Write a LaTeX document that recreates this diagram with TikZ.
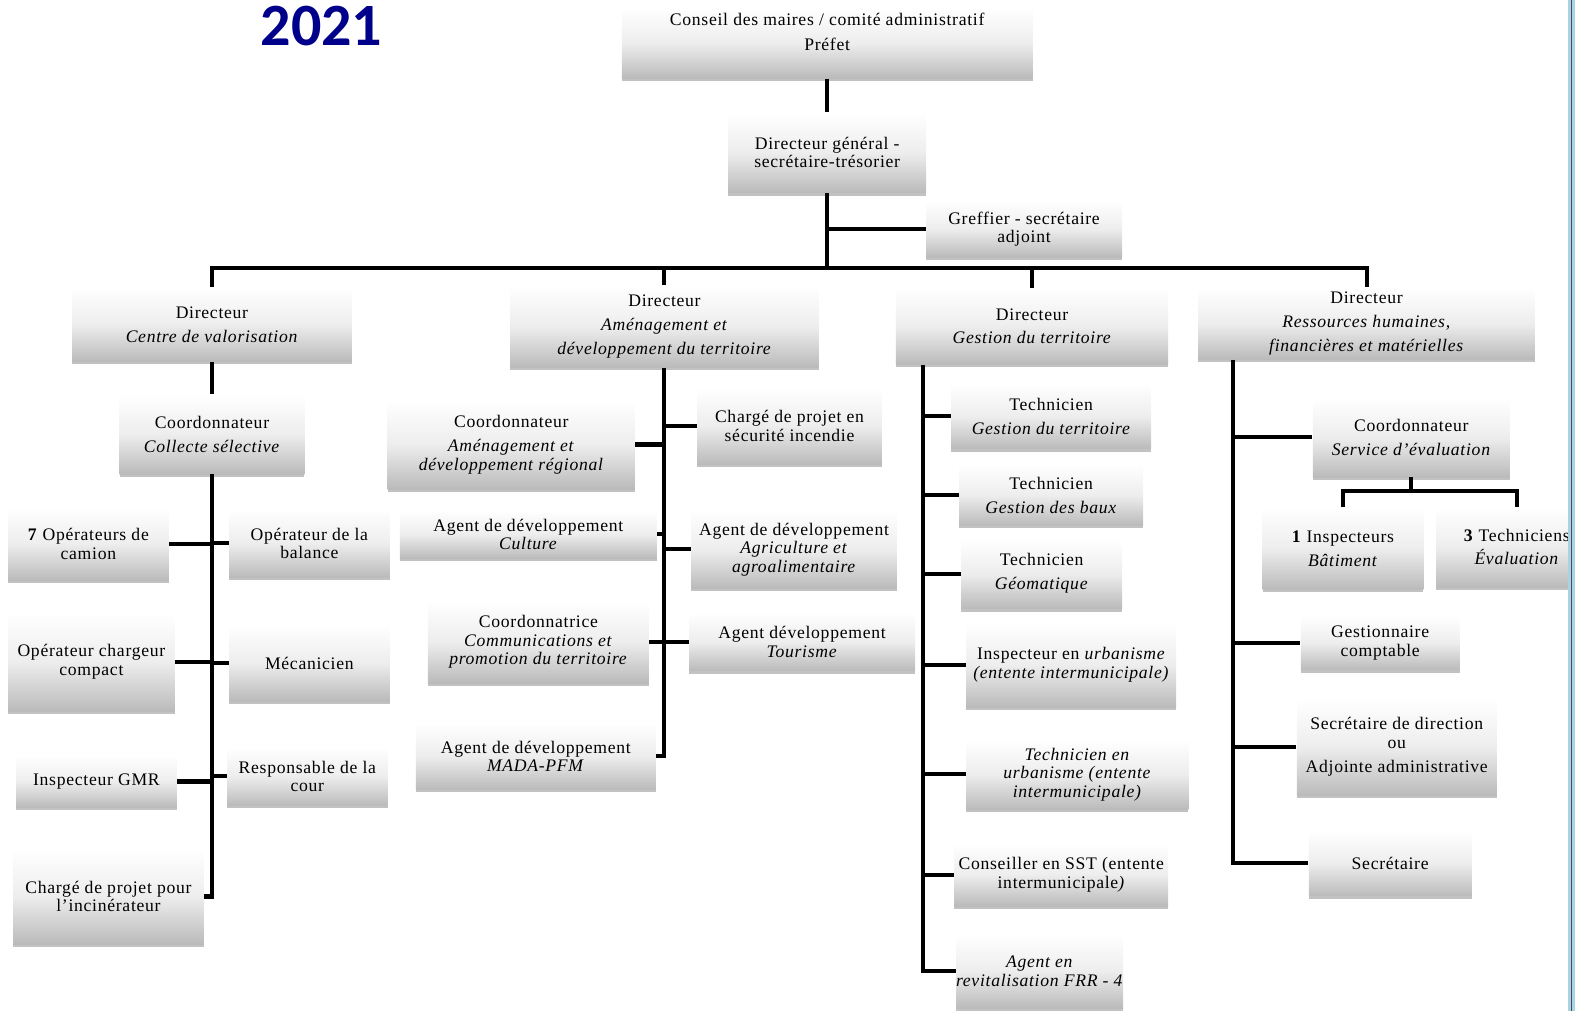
\documentclass[tikz,border=0pt]{standalone}
\usepackage{fontspec}
\setmainfont{Liberation Serif}[LetterSpace=4]
\newfontfamily\titlefont{Carlito}
\usetikzlibrary{shadows}
\usetikzlibrary{calc}
\definecolor{titleblue}{RGB}{0,0,139}
\definecolor{edgeblue}{RGB}{168,212,228}
\tikzset{
	orgnode/.style={inner sep=0pt, align=center, font=\fontsize{10}{10.5}\selectfont,
		shading=axis, top color=white, bottom color=black!27, middle color=black!7,
		drop shadow={shadow xshift=0pt, shadow yshift=-1.6pt, opacity=0.4, fill=black!60}},
	link/.style={draw=black, line width=2.3pt},
	yeartitle/.style={inner sep=0pt, text=titleblue, font=\titlefont\fontsize{34}{34}\selectfont\bfseries}
}
\newcommand{\orgbox}[6] % name, x left, y top, x right, y bottom (px), text
{
	\node[orgnode, minimum width={(#4-#2)*0.2mm}, minimum height={(#5-#3)*0.2mm}] (#1) at ({(#2+#4)/2}, {(#3+#5)/2}) {#6};
}
\begin{document}
\begin{tikzpicture}[x=0.2mm, y=-0.2mm]
	\useasboundingbox (0,0) rectangle (1568,1006);
	\node[yeartitle, anchor=base] (year) at (320,45) {2021};
	
	% top of the chart
	\orgbox{conseil}{619}{8}{1028}{78}{Conseil des maires / comité administratif\\[3.5pt] Préfet\\[2.5pt]\mbox{}}
	\orgbox{dg}{725}{112}{922}{192}{Directeur général -\\secrétaire-trésorier}
	\orgbox{greffier}{922}{200}{1117}{256}{Greffier - secrétaire\\adjoint}
	
	% directors
	\orgbox{dcv}{72}{286}{350}{360}{Directeur\\[3pt] \textit{Centre de valorisation}}
	\orgbox{dadt}{508}{284}{815}{366}{Directeur\\[3pt] \textit{Aménagement et}\\[3pt] \textit{développement du territoire}}
	\orgbox{dgt}{892}{287}{1163}{363}{Directeur\\[2.5pt] \textit{Gestion du territoire}}
	\orgbox{drh}{1193}{286}{1528}{358}{Directeur\\[3pt] \textit{Ressources humaines,}\\[3pt] \textit{financières et matérielles}}
	
	% centre de valorisation
	\orgbox{ccs}{119}{393}{303}{472}{Coordonnateur\\[3pt] \textit{Collecte sélective}}
	\orgbox{camion}{8}{505}{168}{578}{\textbf{7} Opérateurs de\\camion}
	\orgbox{chargeur}{8}{610}{174}{708}{Opérateur chargeur\\compact}
	\orgbox{gmr}{16}{752}{176}{804}{Inspecteur GMR}
	\orgbox{incin}{13}{845}{203}{940}{Chargé de projet pour\\l'incinérateur}
	\orgbox{balance}{228}{507}{388}{575}{Opérateur de la\\balance}
	\orgbox{meca}{228}{622}{388}{698}{Mécanicien}
	\orgbox{cour}{226}{744}{386}{802}{Responsable de la\\cour}
	
	% amenagement et developpement
	\orgbox{cadr}{386}{398}{632}{487}{Coordonnateur\\[3.5pt] \textit{Aménagement et}\\\textit{développement régional}}
	\orgbox{culture}{398}{508}{654}{556}{Agent de développement\\\textit{Culture}}
	\orgbox{ccpt}{426}{598}{646}{680}{Coordonnatrice\\\textit{Communications et}\\\textit{promotion du territoire}}
	\orgbox{mada}{414}{720}{653}{786}{Agent de développement\\\textit{MADA-PFM}}
	\orgbox{incendie}{694}{386}{878}{462}{Chargé de projet en\\sécurité incendie}
	\orgbox{agro}{688}{508}{893}{586}{Agent de développement\\\textit{Agriculture et}\\\textit{agroalimentaire}}
	\orgbox{tourisme}{686}{610}{911}{668}{Agent développement\\\textit{Tourisme}}
	
	% gestion du territoire
	\orgbox{tgt}{947}{382}{1146}{447}{Technicien\\[3.5pt] \textit{Gestion du territoire}}
	\orgbox{baux}{955}{463}{1138}{523}{Technicien\\[3pt] \textit{Gestion des baux}}
	\orgbox{geom}{957}{536}{1117}{606}{Technicien\\[3pt] \textit{Géomatique}}
	\orgbox{inspurb}{962}{620}{1171}{704}{Inspecteur en \textit{urbanisme}\\\textit{(entente intermunicipale)}}
	\orgbox{techurb}{962}{736}{1183}{806}{\textit{Technicien en}\\\textit{urbanisme (entente}\\\textit{intermunicipale)}}
	\orgbox{sst}{950}{840}{1163}{902}{Conseiller en SST (entente\\intermunicipale\textit{)}}
	\orgbox{frr}{955}{930}{1115}{1004}{\textit{Agent en}\\\textit{revitalisation FRR - 4}}
	
	% ressources humaines
	\orgbox{cse}{1307}{396}{1503}{475}{Coordonnateur\\[3pt] \textit{Service d'évaluation}}
	\orgbox{insp}{1257}{505}{1417}{587}{\textbf{1} Inspecteurs\\[3pt] \textit{Bâtiment}}
	\orgbox{techev}{1430}{505}{1590}{585}{\textbf{3} Techniciens\\[2.5pt] \textit{Évaluation}}
	\orgbox{gestion}{1295}{613}{1453}{667}{Gestionnaire\\comptable}
	\orgbox{secdir}{1291}{695}{1490}{792}{Secrétaire de direction\\ou\\[3pt] Adjointe administrative}
	\orgbox{secr}{1303}{827}{1465}{892}{Secrétaire}
	
	% links
	\coordinate (bus) at (825,267);
	\draw[link] (conseil.south) -- (conseil.south |- dg.north);
	\draw[link] (dg.south) -- (dg.south |- bus);
	\draw[link] (dg.south |- greffier.west) -- (greffier.west);
	\draw[link] (dcv.north) |- (bus) -| (drh.north);
	\draw[link] (dadt.north) -- (dadt.north |- bus);
	\draw[link] (dgt.north) -- (dgt.north |- bus);
	
	\draw[link] (dcv.south) -- (dcv.south |- ccs.north);
	\draw[link] (ccs.south) |- (incin.east);
	\foreach \b in {camion,chargeur,gmr}
		\draw[link] (ccs.south |- \b.east) -- (\b.east);
	\foreach \b in {balance,meca,cour}
		\draw[link] (ccs.south |- \b.west) -- (\b.west);
	
	\draw[link] (dadt.south) |- (mada.east);
	\foreach \b in {cadr,culture,ccpt}
		\draw[link] (dadt.south |- \b.east) -- (\b.east);
	\foreach \b in {incendie,agro,tourisme}
		\draw[link] (dadt.south |- \b.west) -- (\b.west);
	
	\coordinate (t3) at ($(dgt.south west)+(27,0)$);
	\draw[link] (t3) |- (frr.west);
	\foreach \b in {tgt,baux,geom,inspurb,techurb,sst}
		\draw[link] (t3 |- \b.west) -- (\b.west);
	
	\coordinate (t4) at ($(drh.south west)+(35,0)$);
	\draw[link] (t4) |- (secr.west);
	\foreach \b in {cse,gestion,secdir}
		\draw[link] (t4 |- \b.west) -- (\b.west);
	\draw[link] (cse.south) -- ++(0,13) coordinate (evbus);
	\draw[link] (insp.north) |- (evbus) -| (techev.north);
	
	% page edge
	\fill[edgeblue] (1561,0) rectangle (1568,1006);
	\draw[black!70, line width=0.3pt] (1564.5,0) -- (1564.5,1006);
\end{tikzpicture}
\end{document}
